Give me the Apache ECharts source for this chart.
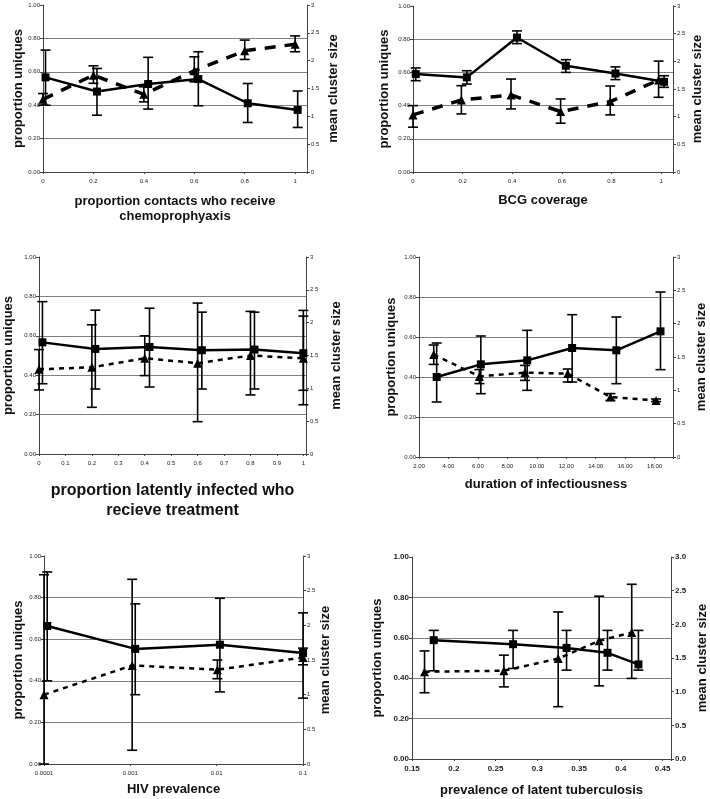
<!DOCTYPE html>
<html><head><meta charset="utf-8">
<script src="https://cdn.jsdelivr.net/npm/echarts@6/dist/echarts.min.js"></script>
<style>html,body{margin:0;padding:0;background:#fff}#c{width:710px;height:799px}</style>
</head><body><div id="c"></div>
<script>
// ---------- Panel 1: chemoprophylaxis ----------
const p1XTicks = ['0','0.2','0.4','0.6','0.8','1'];
const p1TriX  = [0, 0.2, 0.4, 0.6, 0.8, 1];
const p1TriY  = [0.435, 0.58, 0.465, 0.606, 0.726, 0.765];
const p1TriHi = [0.47, 0.636, 0.51, 0.69, 0.79, 0.815];
const p1TriLo = [0.40, 0.531, 0.42, 0.54, 0.674, 0.72];
const p1SqX   = [0.01, 0.214, 0.417, 0.616, 0.812, 1.01];
const p1SqY   = [1.70, 1.445, 1.58, 1.67, 1.235, 1.115];
const p1SqHi  = [2.19, 1.86, 2.06, 2.16, 1.59, 1.455];
const p1SqLo  = [1.20, 1.02, 1.13, 1.19, 0.89, 0.80];
// ---------- Panel 2: BCG coverage ----------
const p2XTicks = ['0','0.2','0.4','0.6','0.8','1'];
const p2TriX  = [0, 0.195, 0.395, 0.595, 0.795, 0.99];
const p2TriY  = [0.344, 0.434, 0.464, 0.364, 0.424, 0.554];
const p2TriHi = [0.40, 0.52, 0.56, 0.44, 0.518, 0.668];
const p2TriLo = [0.27, 0.35, 0.38, 0.294, 0.344, 0.45];
const p2SqX   = [0.011, 0.217, 0.419, 0.616, 0.816, 1.012];
const p2SqY   = [1.77, 1.71, 2.43, 1.92, 1.78, 1.63];
const p2SqHi  = [1.88, 1.83, 2.55, 2.03, 1.90, 1.74];
const p2SqLo  = [1.65, 1.59, 2.32, 1.80, 1.67, 1.53];
// ---------- Panel 3: latent treatment ----------
const p3XTicks = ['0','0.1','0.2','0.3','0.4','0.5','0.6','0.7','0.8','0.9','1'];
const p3TriX  = [0, 0.2, 0.4, 0.6, 0.8, 1];
const p3TriY  = [0.43, 0.44, 0.486, 0.461, 0.50, 0.486];
const p3TriHi = [0.53, 0.656, 0.60, 0.766, 0.724, 0.729];
const p3TriLo = [0.325, 0.237, 0.398, 0.164, 0.30, 0.25];
const p3SqX   = [0.013, 0.213, 0.418, 0.616, 0.815, 1.0];
const p3SqY   = [1.70, 1.60, 1.63, 1.58, 1.59, 1.535];
const p3SqHi  = [2.32, 2.19, 2.22, 2.16, 2.16, 2.10];
const p3SqLo  = [1.07, 0.99, 1.02, 0.99, 0.99, 0.97];
// ---------- Panel 4: duration of infectiousness ----------
const p4XTicks = ['2.00','4.00','6.00','8.00','10.00','12.00','14.00','16.00','18.00'];
const p4TriX  = [3, 6.1, 9.2, 12.1, 15, 18.1];
const p4TriY  = [0.512, 0.403, 0.422, 0.417, 0.30, 0.283];
const p4TriHi = [0.56, 0.437, 0.458, 0.44, 0.317, 0.29];
const p4TriLo = [0.463, 0.367, 0.383, 0.375, 0.283, 0.277];
const p4SqX   = [3.2, 6.2, 9.35, 12.4, 15.4, 18.4];
const p4SqY   = [1.20, 1.39, 1.45, 1.635, 1.60, 1.885];
const p4SqHi  = [1.71, 1.815, 1.90, 2.135, 2.10, 2.475];
const p4SqLo  = [0.825, 0.95, 1.00, 1.125, 1.10, 1.31];
// ---------- Panel 5: HIV prevalence ----------
const p5XTicks = ['0.0001','0.001','0.01','0.1'];
const p5TriX  = [0.0001, 0.00105, 0.0102, 0.1];
const p5TriY  = [0.333, 0.474, 0.453, 0.512];
const p5TriHi = [0.91, 0.888, 0.50, 0.557];
const p5TriLo = [0.0, 0.066, 0.41, 0.477];
const p5SqX   = [0.000109, 0.00114, 0.0109, 0.1];
const p5SqY   = [1.99, 1.66, 1.72, 1.60];
const p5SqHi  = [2.77, 2.31, 2.39, 2.18];
const p5SqLo  = [1.20, 1.00, 1.04, 0.95];
// ---------- Panel 6: latent TB prevalence ----------
const p6XTicks = ['0.15','0.2','0.25','0.3','0.35','0.4','0.45'];
const p6TriX  = [0.165, 0.26, 0.325, 0.374, 0.413];
const p6TriY  = [0.432, 0.437, 0.497, 0.585, 0.626];
const p6TriHi = [0.535, 0.514, 0.728, 0.806, 0.865];
const p6TriLo = [0.328, 0.357, 0.259, 0.362, 0.399];
const p6SqX   = [0.176, 0.271, 0.335, 0.384, 0.421];
const p6SqY   = [1.765, 1.705, 1.65, 1.577, 1.405];
const p6SqHi  = [1.91, 1.91, 1.91, 1.91, 1.91];
const p6SqLo  = [1.31, 1.345, 1.32, 1.32, 1.32];

const leftTitle = 'proportion uniques';
const rightTitle = 'mean cluster size';

const FONT = '"Liberation Sans", Arial, sans-serif';
const panels = [
  {grid:[43,5,264,167], xType:'value', xMin:0, xMax:1.047, xInt:0.2, ticks:p1XTicks,
   xName:'proportion contacts who receive\nchemoprophyaxis', xNameSize:13, xNameLH:15, xGap:21.5,
   lGap:18.5, rGap:19.5, tick:6, bold:false, rDec:false, dash:[11,9], dashW:3.5,
   tri:[p1TriX,p1TriY,p1TriLo,p1TriHi], sq:[p1SqX,p1SqY,p1SqLo,p1SqHi]},
  {grid:[413,6,260,166], xType:'value', xMin:0, xMax:1.048, xInt:0.2, ticks:p2XTicks,
   xName:'BCG coverage', xNameSize:13, xNameLH:15, xGap:20.5,
   lGap:22, rGap:18, tick:6, bold:false, rDec:false, dash:[11,9], dashW:3.5,
   tri:[p2TriX,p2TriY,p2TriLo,p2TriHi], sq:[p2SqX,p2SqY,p2SqLo,p2SqHi]},
  {grid:[39,257,267,197], xType:'value', xMin:0, xMax:1.01, xInt:0.1, ticks:p3XTicks,
   xName:'proportion latently infected who\nrecieve treatment', xNameSize:16, xNameLH:20, xGap:27,
   lGap:24.5, rGap:24, tick:6, bold:false, rDec:false, dash:[5,5], dashW:2.5,
   tri:[p3TriX,p3TriY,p3TriLo,p3TriHi], sq:[p3SqX,p3SqY,p3SqLo,p3SqHi]},
  {grid:[419,257,254,200], xType:'value', xMin:2, xMax:19.25, xInt:2, ticks:p4XTicks,
   xName:'duration of infectiousness', xNameSize:13, xNameLH:15, xGap:20,
   lGap:21, rGap:22, tick:6, bold:false, rDec:false, dash:[5,5], dashW:2.5,
   tri:[p4TriX,p4TriY,p4TriLo,p4TriHi], sq:[p4SqX,p4SqY,p4SqLo,p4SqHi]},
  {grid:[44,556,259,208], xType:'log', xMin:0.0001, xMax:0.1, ticks:p5XTicks,
   xName:'HIV prevalence', xNameSize:13, xNameLH:15, xGap:18,
   lGap:19.5, rGap:15.5, tick:6, bold:false, rDec:false, dash:[5,5], dashW:2.5,
   tri:[p5TriX,p5TriY,p5TriLo,p5TriHi], sq:[p5SqX,p5SqY,p5SqLo,p5SqHi]},
  {grid:[412,557,261,202], xType:'value', xMin:0.15, xMax:0.46, xInt:0.05, ticks:p6XTicks,
   xName:'prevalence of latent tuberculosis', xNameSize:13, xNameLH:15, xGap:23.5,
   lGap:28, rGap:25, tick:8, bold:true, rDec:true, dash:[5,5], dashW:2.5,
   tri:[p6TriX,p6TriY,p6TriLo,p6TriHi], sq:[p6SqX,p6SqY,p6SqLo,p6SqHi]}
];

const AX = '#444', GRID = '#808080';
const grid = [], xAxis = [], yAxis = [], series = [];

function errSeries(xi, yi, xs, lo, hi) {
  return {
    type:'custom', xAxisIndex:xi, yAxisIndex:yi, z:3, clip:false,
    data: xs.map((x,k)=>[x, lo[k], hi[k]]),
    encode:{x:0, y:[1,2]},
    renderItem:(params, api)=>{
      const x = api.value(0), lo = api.value(1), hi = api.value(2);
      const a = api.coord([x, hi]), b = api.coord([x, lo]);
      const w = 5, st = {stroke:'#000', lineWidth:1.6};
      return {type:'group', children:[
        {type:'line', shape:{x1:a[0],y1:a[1],x2:b[0],y2:b[1]}, style:st},
        {type:'line', shape:{x1:a[0]-w,y1:a[1],x2:a[0]+w,y2:a[1]}, style:st},
        {type:'line', shape:{x1:b[0]-w,y1:b[1],x2:b[0]+w,y2:b[1]}, style:st}
      ]};
    }
  };
}

panels.forEach((P, i) => {
  grid.push({left:P.grid[0], top:P.grid[1], width:P.grid[2], height:P.grid[3], containLabel:false});
  const labelStyle = {fontSize:P.tick, color:'#222', fontFamily:FONT, fontWeight:P.bold?'bold':'normal'};
  const xa = {
    gridIndex:i, type:P.xType, min:P.xMin, max:P.xMax,
    axisLine:{show:true, lineStyle:{color:AX, width:1}},
    axisTick:{show:true, length:2, lineStyle:{color:AX}},
    splitLine:{show:false},
    axisLabel:Object.assign({margin:6, showMaxLabel:true, showMinLabel:true,
      formatter:(v)=>{ const s = String(+(+v).toPrecision(3)); 
        if (P.xType==='value' && P.xMin===2) { const t=(+v).toFixed(2); return P.ticks.includes(t)?t:''; }
        return P.ticks.includes(s)?s:''; }}, labelStyle),
    name:P.xName, nameLocation:'middle', nameGap:P.xGap,
    nameTextStyle:{fontSize:P.xNameSize, fontWeight:'bold', color:'#111', fontFamily:FONT, lineHeight:P.xNameLH}
  };
  if (P.xType==='log') xa.logBase = 10; else xa.interval = P.xInt;
  xAxis.push(xa);
  yAxis.push({
    gridIndex:i, position:'left', min:0, max:1, interval:0.2,
    axisLine:{show:true, lineStyle:{color:AX, width:1}},
    axisTick:{show:true, length:3, lineStyle:{color:AX}},
    axisLabel:Object.assign({margin:3, formatter:(v)=>(+v).toFixed(2)}, labelStyle),
    splitLine:{show:true, showMinLine:false, showMaxLine:false, lineStyle:{color:GRID, width:1}},
    name:leftTitle, nameLocation:'middle', nameGap:P.lGap,
    nameTextStyle:{fontSize:13, fontWeight:'bold', color:'#111', fontFamily:FONT, lineHeight:13}
  });
  yAxis.push({
    gridIndex:i, position:'right', min:0, max:3, interval:0.5,
    axisLine:{show:true, lineStyle:{color:AX, width:1}},
    axisTick:{show:true, length:3, lineStyle:{color:AX}},
    axisLabel:Object.assign({margin:4, formatter:(v)=>P.rDec?(+v).toFixed(1):String(+v)}, labelStyle),
    splitLine:{show:false},
    name:rightTitle, nameLocation:'middle', nameGap:P.rGap,
    nameTextStyle:{fontSize:13, fontWeight:'bold', color:'#111', fontFamily:FONT, lineHeight:13}
  });
  const yl = 2*i, yr = 2*i+1;
  series.push(errSeries(i, yl, P.tri[0], P.tri[2], P.tri[3]));
  series.push(errSeries(i, yr, P.sq[0], P.sq[2], P.sq[3]));
  series.push({
    type:'line', xAxisIndex:i, yAxisIndex:yl, z:4,
    data:P.tri[0].map((x,k)=>[x, P.tri[1][k]]),
    symbol:'triangle', symbolSize:9, showSymbol:true,
    itemStyle:{color:'#000'},
    lineStyle:{color:'#000', width:P.dashW, type:P.dash},
    animation:false
  });
  series.push({
    type:'line', xAxisIndex:i, yAxisIndex:yr, z:4,
    data:P.sq[0].map((x,k)=>[x, P.sq[1][k]]),
    symbol:'rect', symbolSize:8, showSymbol:true,
    itemStyle:{color:'#000'},
    lineStyle:{color:'#000', width:2.5, type:'solid'},
    animation:false
  });
});

const chart = echarts.init(document.getElementById('c'), null, {renderer:'canvas'});
chart.setOption({backgroundColor:'#fff', animation:false, grid, xAxis, yAxis, series});
</script>
</body></html>
